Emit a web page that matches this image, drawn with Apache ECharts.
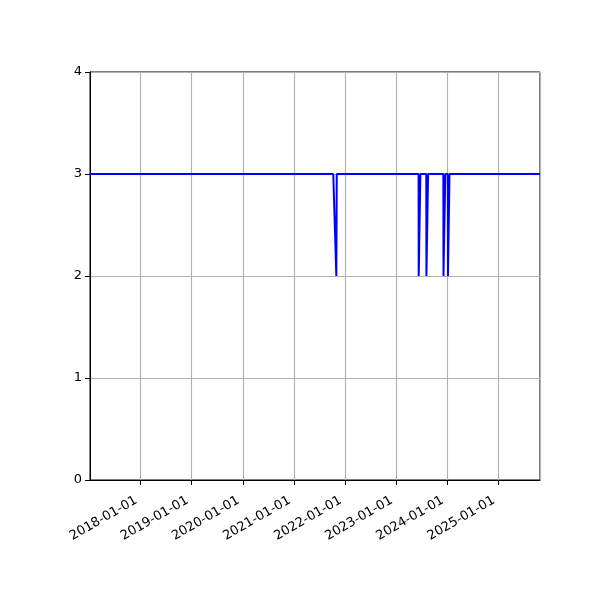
<!DOCTYPE html>
<html>
<head>
<meta charset="utf-8">
<script src="https://cdn.jsdelivr.net/npm/echarts@6/dist/echarts.min.js"></script>
<style>
html,body{margin:0;padding:0;background:#fff;}
#chart{width:600px;height:600px;}
</style>
</head>
<body>
<div id="chart"></div>
<script>
const dates = [
  '2017-01-04','2021-10-09','2021-10-31','2021-11-03',
  '2023-06-11','2023-06-12','2023-06-23','2023-06-24',
  '2023-08-05','2023-08-06','2023-08-17','2023-08-18',
  '2023-12-05','2023-12-06','2023-12-18','2023-12-19',
  '2024-01-06','2024-01-07','2024-01-17','2024-01-18',
  '2025-10-26'
];
const values = [
  3,3,2,3,
  3,2,2,3,
  3,2,2,3,
  3,2,2,3,
  3,2,2,3,
  3
];
const xMin = '2017-01-04';
const xMax = '2025-10-26';
const yTicks = [0,1,2,3,4];

const seriesData = dates.map((d,i)=>[d, values[i]]);
const DAY = 24*3600*1000;

const chart = echarts.init(document.getElementById('chart'), null, {renderer:'canvas'});
chart.setOption({
  animation:false,
  backgroundColor:'#fff',
  grid:{left:90,right:60,top:72,bottom:120,show:true,borderColor:'#000',borderWidth:1,backgroundColor:'transparent'},
  xAxis:{
    type:'time',
    min:xMin,
    max:xMax,
    minInterval:365*DAY,
    maxInterval:366*DAY,
    axisLine:{show:true,lineStyle:{color:'#000',width:1}},
    axisTick:{show:true,length:5,lineStyle:{color:'#000',width:1}},
    axisLabel:{
      rotate:30,
      formatter:'{yyyy}-{MM}-{dd}',
      color:'#000',
      fontFamily:'DejaVu Sans',
      fontSize:13,
      margin:17,
      padding:[0,5,0,0],
      hideOverlap:false,
      showMinLabel:false,
      showMaxLabel:false
    },
    splitLine:{show:true,lineStyle:{color:'#b0b0b0',width:1.1}}
  },
  yAxis:{
    type:'value',
    min:yTicks[0],
    max:yTicks[yTicks.length-1],
    interval:1,
    axisLine:{show:true,lineStyle:{color:'#000',width:1}},
    axisTick:{show:true,length:5,lineStyle:{color:'#000',width:1}},
    axisLabel:{color:'#000',fontFamily:'DejaVu Sans',fontSize:13,margin:8},
    splitLine:{show:true,lineStyle:{color:'#b0b0b0',width:1.1}}
  },
  series:[{
    type:'line',
    data:seriesData,
    showSymbol:false,
    symbol:'none',
    lineStyle:{color:'#0000ff',width:2},
    z:5
  }]
});
</script>
</body>
</html>
